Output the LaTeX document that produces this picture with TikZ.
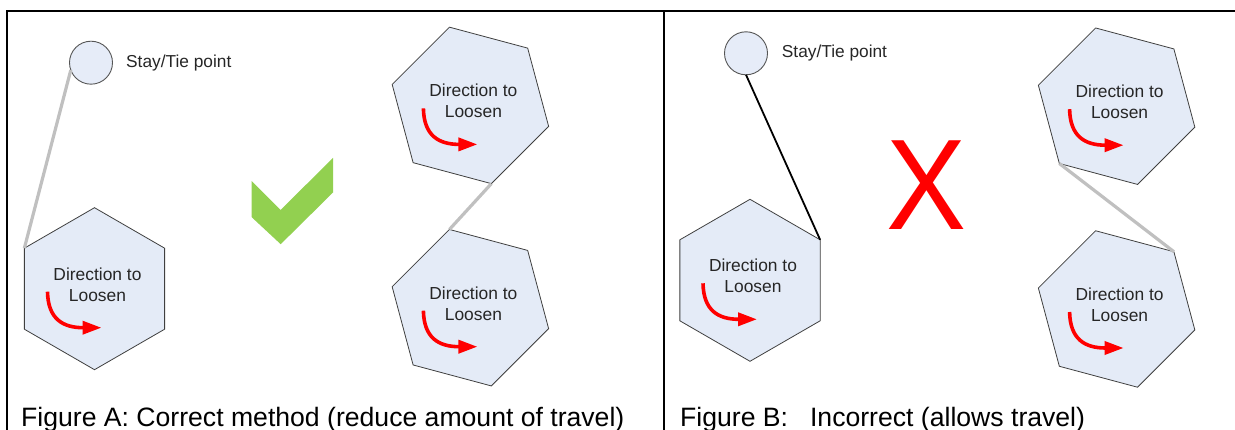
\documentclass[tikz,border=0pt]{standalone}
\usepackage{fontspec}
\setmainfont{Liberation Sans}
\usetikzlibrary{shapes.geometric,arrows.meta}
\definecolor{hexfill}{HTML}{E4EBF7}
\definecolor{hexline}{HTML}{3F3F3F}
\definecolor{circfill}{HTML}{E6ECF8}
\definecolor{circline}{HTML}{555555}
\definecolor{tiegray}{HTML}{C0C0C0}
\definecolor{checkgreen}{HTML}{92D050}
\definecolor{xred}{HTML}{FF0000}
\newcommand{\loosenarrow}[1]{%
  \draw[loosen] ([shift={(-47,3)}]#1.center) .. controls ([shift={(-46.5,30)}]#1.center) and ([shift={(-32,39)}]#1.center) .. ([shift={(7,39)}]#1.center);}
\begin{document}
\begin{tikzpicture}[x=1pt,y=-1pt,
  hexnode/.style={regular polygon, regular polygon sides=6, minimum size=162pt,
    inner sep=0pt, outer sep=0pt, draw=hexline, fill=hexfill, line width=0.8pt},
  tienode/.style={circle, minimum size=43pt, inner sep=0pt, outer sep=0pt,
    draw=circline, fill=circfill, line width=0.9pt},
  hextext/.style={inner sep=0pt, align=center, text=black!85,
    font=\fontsize{17.4}{21}\selectfont},
  lbltext/.style={inner sep=0pt, anchor=west, text=black!85,
    font=\fontsize{17.3}{21}\selectfont},
  captext/.style={inner sep=0pt, anchor=base west, text=black,
    font=\fontsize{26.6}{30}\selectfont},
  tiegrey/.style={draw=tiegray, line width=3.2pt},
  tieblack/.style={draw=black, line width=1.8pt},
  loosen/.style={draw=xred, line width=3.6pt, -{Triangle[length=19pt,width=13pt]}},
  frame/.style={draw=black, line width=2pt}]
\useasboundingbox (0,0) rectangle (1235,430);
% frame
\draw[frame] (7,430) -- (7,11) -- (1235,11);
\draw[frame] (664,11) -- (664,430);

% ---------- Figure A ----------
\node[tienode] (ca) at (91,62.7) {};
\node[lbltext] (sa) at (126,62.7) {Stay/Tie point};
\node[hexnode, shape border rotate=30] (a1) at (94.5,288.7) {};
\node[hexnode, shape border rotate=45] (a2) at (470.4,105.4) {};
\node[hexnode, shape border rotate=45] (a3) at (470.4,307.7) {};
\draw[tiegrey] (ca.200) -- (a1.150);
\draw[tiegrey] (a2.-75) -- (a3.105);
\node[hextext] (ta1) at ([shift={(3,-4.3)}]a1.center) {Direction to\\Loosen};
\node[hextext] (ta2) at ([shift={(3,-4.3)}]a2.center) {Direction to\\Loosen};
\node[hextext] (ta3) at ([shift={(3,-4.3)}]a3.center) {Direction to\\Loosen};
\loosenarrow{a1}
\loosenarrow{a2}
\loosenarrow{a3}
\fill[checkgreen] (251.7,181.2) -- (280.7,210) -- (333,157.8) -- (333,192.5)
  -- (280.7,244.2) -- (251.7,217.2) -- cycle;
\node[captext] (capa) at (21,426) {Figure A: Correct method (reduce amount of travel)};

% ---------- Figure B ----------
\node[tienode] (cb) at (746,53.3) {};
\node[lbltext] (sb) at (781.7,53.3) {Stay/Tie point};
\node[hexnode, shape border rotate=30] (b1) at (750,280.3) {};
\node[hexnode, shape border rotate=45] (b2) at (1116.6,106.2) {};
\node[hexnode, shape border rotate=45] (b3) at (1116.6,309) {};
\draw[tieblack] (cb.-90) -- (b1.30);
\draw[tiegrey] (b2.-135) -- (b3.45);
\node[hextext] (tb1) at ([shift={(3,-4.3)}]b1.center) {Direction to\\Loosen};
\node[hextext] (tb2) at ([shift={(3,-4.3)}]b2.center) {Direction to\\Loosen};
\node[hextext] (tb3) at ([shift={(3,-4.3)}]b3.center) {Direction to\\Loosen};
\loosenarrow{b1}
\loosenarrow{b2}
\loosenarrow{b3}
\node[inner sep=0pt, text=xred, font=\fontsize{129}{129}\selectfont] (xmark) at (927,185.4) {\scalebox{0.93}[1]{X}};
\node[captext] (capb) at (680,426) {Figure B:\hspace{22pt}Incorrect (allows travel)};
\end{tikzpicture}
\end{document}
